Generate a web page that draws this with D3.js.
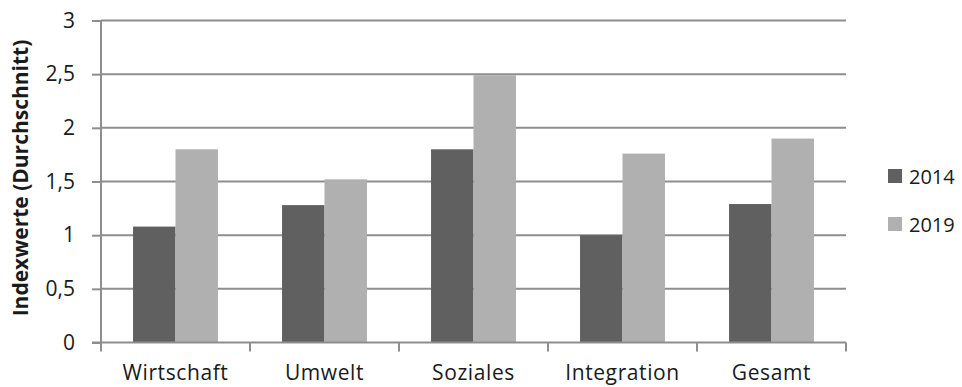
<!DOCTYPE html>
<html>
<head>
<meta charset="utf-8">
<script src="https://cdn.jsdelivr.net/npm/d3@7"></script>
<style>
  html, body { margin: 0; padding: 0; background: #fff; }
  svg text { font-family: "Open Sans", Lato, sans-serif; fill: #1a1a1a; }
</style>
</head>
<body>
<svg id="chart" width="962" height="387"></svg>
<script>
// Index values by area, two survey years
const categories = ["Wirtschaft", "Umwelt", "Soziales", "Integration", "Gesamt"];
const years = ["2014", "2019"];
const values2014 = [1.08, 1.28, 1.80, 1.00, 1.29];
const values2019 = [1.80, 1.52, 2.49, 1.76, 1.90];
const yTicks = [0, 0.5, 1, 1.5, 2, 2.5, 3];
const yLabel = "Indexwerte (Durchschnitt)";

const series = { "2014": values2014, "2019": values2019 };
const colors = { "2014": "#606060", "2019": "#b0b0b0" };
const gridColor = "#8e8e8e";

const margin = { left: 101, right: 116, top: 20.5, bottom: 44.5 };
const W = 962, H = 387;
const svg = d3.select("#chart");

const x0 = d3.scaleBand()
  .domain(categories)
  .range([margin.left, W - margin.right])
  .paddingInner(0.43)
  .paddingOuter(0.215);

const x1 = d3.scaleBand()
  .domain(years)
  .range([0, x0.bandwidth()]);

const y = d3.scaleLinear()
  .domain([0, 3])
  .range([H - margin.bottom, margin.top]);

const fmt = d => d3.format(",")(d).replace(".", ",");

// horizontal gridlines with short ticks left of the axis
const yAxis = svg.append("g")
  .attr("transform", `translate(${margin.left},0)`)
  .call(d3.axisLeft(y).tickValues(yTicks).tickFormat(fmt).tickSize(9).tickPadding(17));
yAxis.select(".domain").remove();
yAxis.selectAll(".tick line").attr("stroke", gridColor).attr("stroke-width", 2);
yAxis.selectAll(".tick text")
  .style("font-size", "21px")
  .style("font-family", "'Open Sans', sans-serif")
  .attr("fill", "#1a1a1a");

svg.append("g")
  .selectAll("line")
  .data(yTicks.filter(d => d > 0))
  .join("line")
  .attr("x1", margin.left)
  .attr("x2", W - margin.right)
  .attr("y1", d => y(d))
  .attr("y2", d => y(d))
  .attr("stroke", gridColor)
  .attr("stroke-width", 2);

// bars
const groups = svg.append("g")
  .selectAll("g")
  .data(categories)
  .join("g")
  .attr("transform", c => `translate(${x0(c)},0)`);

groups.selectAll("rect")
  .data((c, i) => years.map(yr => ({ yr, v: series[yr][i] })))
  .join("rect")
  .attr("x", d => x1(d.yr))
  .attr("width", x1.bandwidth())
  .attr("y", d => y(d.v))
  .attr("height", d => y(0) - y(d.v))
  .attr("fill", d => colors[d.yr]);

// y axis line
svg.append("line")
  .attr("x1", margin.left).attr("x2", margin.left)
  .attr("y1", y(3)).attr("y2", y(0))
  .attr("stroke", gridColor).attr("stroke-width", 2);

// x axis with category boundary ticks
const xAxisY = y(0);
svg.append("line")
  .attr("x1", margin.left - 9).attr("x2", W - margin.right)
  .attr("y1", xAxisY).attr("y2", xAxisY)
  .attr("stroke", gridColor).attr("stroke-width", 2);

const boundaries = categories.map(c => x0(c) - x0.step() * x0.paddingInner() / 2)
  .concat([W - margin.right]);
svg.append("g")
  .selectAll("line")
  .data(boundaries)
  .join("line")
  .attr("x1", d => d).attr("x2", d => d)
  .attr("y1", xAxisY).attr("y2", xAxisY + 9)
  .attr("stroke", gridColor).attr("stroke-width", 2);

svg.append("g")
  .selectAll("text")
  .data(categories)
  .join("text")
  .attr("x", c => x0(c) + x0.bandwidth() / 2)
  .attr("y", 380)
  .attr("text-anchor", "middle")
  .style("font-size", "21px")
  .style("letter-spacing", "0.6px")
  .text(c => c);

// rotated axis title
svg.append("text")
  .attr("transform", `translate(28,178) rotate(-90)`)
  .attr("text-anchor", "middle")
  .style("font-size", "21px")
  .style("font-weight", "bold")
  .text(yLabel);

// legend
const legend = svg.append("g")
  .selectAll("g")
  .data(years)
  .join("g")
  .attr("transform", (d, i) => `translate(888,${169 + i * 48})`);
legend.append("rect")
  .attr("width", 14).attr("height", 14)
  .attr("fill", d => colors[d]);
legend.append("text")
  .attr("x", 21).attr("y", 15)
  .style("font-size", "20px")
  .text(d => d);
</script>
</body>
</html>
